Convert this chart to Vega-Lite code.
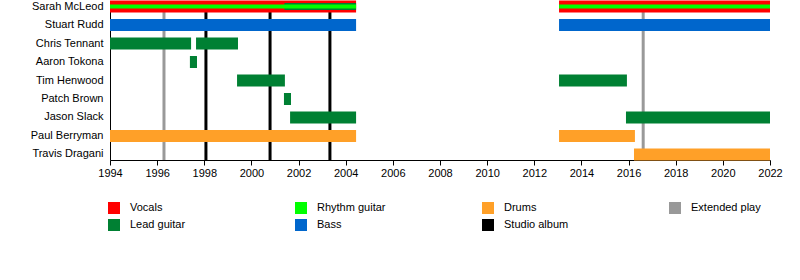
{
  "$schema": "https://vega.github.io/schema/vega-lite/v6.json",
  "width": 660,
  "height": 159,
  "autosize": {"type": "none"},
  "padding": {"left": 110, "top": 1, "right": 30, "bottom": 120},
  "background": "white",
  "config": {"view": {"stroke": null}, "font": "Liberation Sans"},
  "datasets": {
    "members": [
      {"name": "Sarah McLeod", "role": "Vocals", "part": "primary", "start": 1994, "end": 2004.44},
      {"name": "Sarah McLeod", "role": "Vocals", "part": "primary", "start": 2013.05, "end": 2022},
      {"name": "Sarah McLeod", "role": "Lead guitar", "part": "secondary", "start": 2001.4, "end": 2004.44},
      {"name": "Sarah McLeod", "role": "Rhythm guitar", "part": "tertiary", "start": 1994, "end": 2004.44},
      {"name": "Sarah McLeod", "role": "Rhythm guitar", "part": "tertiary", "start": 2013.05, "end": 2022},
      {"name": "Stuart Rudd", "role": "Bass", "part": "primary", "start": 1994, "end": 2004.44},
      {"name": "Stuart Rudd", "role": "Bass", "part": "primary", "start": 2013.05, "end": 2022},
      {"name": "Chris Tennant", "role": "Lead guitar", "part": "primary", "start": 1994, "end": 1997.44},
      {"name": "Chris Tennant", "role": "Lead guitar", "part": "primary", "start": 1997.65, "end": 1999.43},
      {"name": "Aaron Tokona", "role": "Lead guitar", "part": "primary", "start": 1997.39, "end": 1997.69},
      {"name": "Tim Henwood", "role": "Lead guitar", "part": "primary", "start": 1999.39, "end": 2001.42},
      {"name": "Tim Henwood", "role": "Lead guitar", "part": "primary", "start": 2013.05, "end": 2015.93},
      {"name": "Patch Brown", "role": "Lead guitar", "part": "primary", "start": 2001.38, "end": 2001.68},
      {"name": "Jason Slack", "role": "Lead guitar", "part": "primary", "start": 2001.64, "end": 2004.44},
      {"name": "Jason Slack", "role": "Lead guitar", "part": "primary", "start": 2015.89, "end": 2022},
      {"name": "Paul Berryman", "role": "Drums", "part": "primary", "start": 1994, "end": 2004.44},
      {"name": "Paul Berryman", "role": "Drums", "part": "primary", "start": 2013.05, "end": 2016.27},
      {"name": "Travis Dragani", "role": "Drums", "part": "primary", "start": 2016.23, "end": 2022}
    ],
    "releases": [
      {"type": "Extended play", "date": 1996.29},
      {"type": "Studio album", "date": 1998.07},
      {"type": "Studio album", "date": 2000.79},
      {"type": "Studio album", "date": 2003.33},
      {"type": "Extended play", "date": 2016.62}
    ]
  },
  "layer": [
    {
      "data": {"name": "releases"},
      "mark": {"type": "rule", "strokeWidth": 3},
      "encoding": {
        "x": {
          "field": "date", "type": "quantitative",
          "scale": {"domain": [1994, 2022], "nice": false, "zero": false},
          "axis": {"title": null, "values": [1994,1995,1996,1997,1998,1999,2000,2001,2002,2003,2004,2005,2006,2007,2008,2009,2010,2011,2012,2013,2014,2015,2016,2017,2018,2019,2020,2021,2022], "format": "d", "labelExpr": "datum.value % 2 == 0 ? datum.label : ''", "grid": false, "domainColor": "black", "tickColor": "black", "tickSize": 5, "labelFontSize": 11, "labelColor": "black", "labelPadding": 2, "labelFlush": false, "labelOverlap": false}
        },
        "color": {
          "field": "type", "type": "nominal",
          "scale": {"domain": ["Vocals", "Lead guitar", "Rhythm guitar", "Bass", "Drums", "Studio album", "Extended play"], "range": ["#ff0000", "#008033", "#00ff00", "#0066cc", "#ffa028", "#000000", "#999999"]},
          "legend": {"orient": "none", "legendX": -2, "legendY": 201, "columns": 4, "gridAlign": "all", "columnPadding": 95, "rowPadding": 5, "symbolType": "square", "symbolSize": 144, "symbolStrokeWidth": 0, "symbolOpacity": 1, "labelFontSize": 11, "labelOffset": 10, "labelColor": "black", "title": null, "padding": 0}
        }
      }
    },
    {
      "data": {"name": "members"},
      "transform": [{"filter": "datum.part == 'primary'"}],
      "mark": {"type": "bar", "height": 12},
      "encoding": {
        "y": {
          "field": "name", "type": "nominal",
          "scale": {"domain": ["Sarah McLeod", "Stuart Rudd", "Chris Tennant", "Aaron Tokona", "Tim Henwood", "Patch Brown", "Jason Slack", "Paul Berryman", "Travis Dragani"], "paddingInner": 0.4, "paddingOuter": 0},
          "axis": {"title": null, "ticks": false, "tickSize": 0, "labelPadding": 7, "labelFontSize": 11, "labelColor": "black", "domainColor": "black"}
        },
        "x": {
          "field": "start", "type": "quantitative",
          "scale": {"domain": [1994, 2022], "nice": false, "zero": false},
          "axis": {"title": null, "values": [1994,1995,1996,1997,1998,1999,2000,2001,2002,2003,2004,2005,2006,2007,2008,2009,2010,2011,2012,2013,2014,2015,2016,2017,2018,2019,2020,2021,2022], "format": "d", "labelExpr": "datum.value % 2 == 0 ? datum.label : ''", "grid": false, "domainColor": "black", "tickColor": "black", "tickSize": 5, "labelFontSize": 11, "labelColor": "black", "labelPadding": 2, "labelFlush": false, "labelOverlap": false}
        },
        "x2": {"field": "end"},
        "color": {
          "field": "role", "type": "nominal",
          "scale": {"domain": ["Vocals", "Lead guitar", "Rhythm guitar", "Bass", "Drums", "Studio album", "Extended play"], "range": ["#ff0000", "#008033", "#00ff00", "#0066cc", "#ffa028", "#000000", "#999999"]},
          "legend": {"orient": "none", "legendX": -2, "legendY": 201, "columns": 4, "gridAlign": "all", "columnPadding": 95, "rowPadding": 5, "symbolType": "square", "symbolSize": 144, "symbolStrokeWidth": 0, "symbolOpacity": 1, "labelFontSize": 11, "labelOffset": 10, "labelColor": "black", "title": null, "padding": 0}
        }
      }
    },
    {
      "data": {"name": "members"},
      "transform": [{"filter": "datum.part == 'secondary'"}],
      "mark": {"type": "bar", "height": 7},
      "encoding": {
        "y": {"field": "name", "type": "nominal"},
        "x": {"field": "start", "type": "quantitative"},
        "x2": {"field": "end"},
        "color": {"field": "role", "type": "nominal"}
      }
    },
    {
      "data": {"name": "members"},
      "transform": [{"filter": "datum.part == 'tertiary'"}],
      "mark": {"type": "bar", "height": 4},
      "encoding": {
        "y": {"field": "name", "type": "nominal"},
        "x": {"field": "start", "type": "quantitative"},
        "x2": {"field": "end"},
        "color": {"field": "role", "type": "nominal"}
      }
    }
  ]
}
